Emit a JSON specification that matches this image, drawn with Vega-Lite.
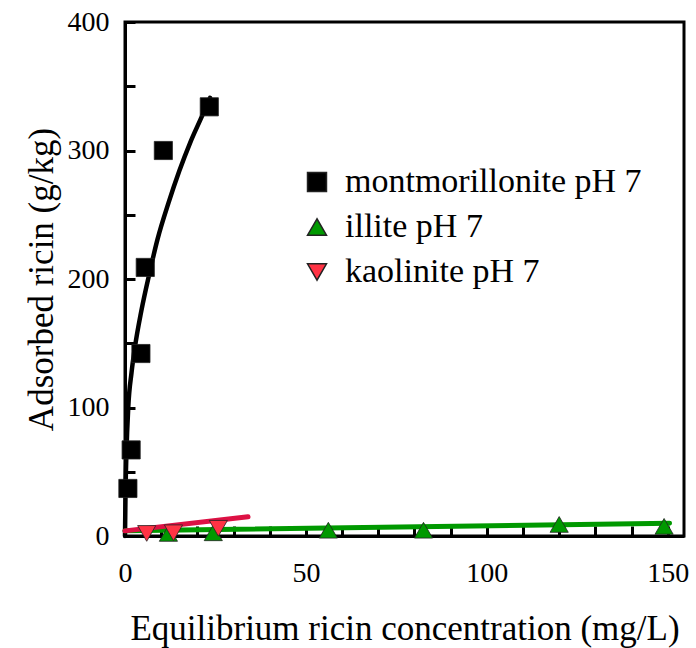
{
  "$schema": "https://vega.github.io/schema/vega-lite/v6.json",
  "width": 559,
  "height": 514,
  "autosize": {"type": "none"},
  "padding": {"left": 125, "top": 22, "right": 12, "bottom": 112},
  "background": "white",
  "config": {
    "font": "Liberation Serif, Times New Roman, Times, DejaVu Serif, serif",
    "view": {"stroke": "black", "strokeWidth": 3},
    "axis": {
      "domainColor": "black", "domainWidth": 3,
      "tickColor": "black", "tickWidth": 3,
      "labelFont": "Liberation Serif, Times New Roman, Times, DejaVu Serif, serif", "labelFontSize": 28, "labelColor": "black",
      "titleFont": "Liberation Serif, Times New Roman, Times, DejaVu Serif, serif", "titleFontSize": 35, "titleFontWeight": "normal", "titleColor": "black",
      "grid": false
    },
    "legend": {
      "labelFont": "Liberation Serif, Times New Roman, Times, DejaVu Serif, serif",
      "titleFont": "Liberation Serif, Times New Roman, Times, DejaVu Serif, serif"
    }
  },
  "data": {"values": [
    {"series": "montmorillonite pH 7", "kind": "point", "x": 0.8, "y": 37},
    {"series": "montmorillonite pH 7", "kind": "point", "x": 1.7, "y": 67},
    {"series": "montmorillonite pH 7", "kind": "point", "x": 4.4, "y": 142},
    {"series": "montmorillonite pH 7", "kind": "point", "x": 5.6, "y": 209},
    {"series": "montmorillonite pH 7", "kind": "point", "x": 10.6, "y": 300},
    {"series": "montmorillonite pH 7", "kind": "point", "x": 23.3, "y": 334},
    {"series": "illite pH 7", "kind": "point", "x": 12.0, "y": 2},
    {"series": "illite pH 7", "kind": "point", "x": 24.4, "y": 2.5},
    {"series": "illite pH 7", "kind": "point", "x": 56.2, "y": 4.5},
    {"series": "illite pH 7", "kind": "point", "x": 82.5, "y": 4.5},
    {"series": "illite pH 7", "kind": "point", "x": 120, "y": 9},
    {"series": "illite pH 7", "kind": "point", "x": 149, "y": 7.5},
    {"series": "kaolinite pH 7", "kind": "point", "x": 6.0, "y": 2},
    {"series": "kaolinite pH 7", "kind": "point", "x": 13.4, "y": 2.5},
    {"series": "kaolinite pH 7", "kind": "point", "x": 25.8, "y": 6},
    {"series": "montmorillonite pH 7", "kind": "fit", "x": 0, "y": 0},
    {"series": "montmorillonite pH 7", "kind": "fit", "x": 0.15, "y": 35},
    {"series": "montmorillonite pH 7", "kind": "fit", "x": 0.4, "y": 65},
    {"series": "montmorillonite pH 7", "kind": "fit", "x": 0.9, "y": 100},
    {"series": "montmorillonite pH 7", "kind": "fit", "x": 1.8, "y": 127},
    {"series": "montmorillonite pH 7", "kind": "fit", "x": 2.8, "y": 148},
    {"series": "montmorillonite pH 7", "kind": "fit", "x": 4.5, "y": 175},
    {"series": "montmorillonite pH 7", "kind": "fit", "x": 6.8, "y": 205},
    {"series": "montmorillonite pH 7", "kind": "fit", "x": 9, "y": 231},
    {"series": "montmorillonite pH 7", "kind": "fit", "x": 12, "y": 259},
    {"series": "montmorillonite pH 7", "kind": "fit", "x": 15, "y": 284},
    {"series": "montmorillonite pH 7", "kind": "fit", "x": 18, "y": 306},
    {"series": "montmorillonite pH 7", "kind": "fit", "x": 21, "y": 325},
    {"series": "montmorillonite pH 7", "kind": "fit", "x": 23.5, "y": 341},
    {"series": "illite pH 7", "kind": "fit", "x": 0, "y": 4},
    {"series": "illite pH 7", "kind": "fit", "x": 150.5, "y": 10},
    {"series": "kaolinite pH 7", "kind": "fit", "x": 0, "y": 4},
    {"series": "kaolinite pH 7", "kind": "fit", "x": 34, "y": 15}
  ]},
  "encoding": {
    "x": {
      "field": "x", "type": "quantitative",
      "scale": {"domain": [0, 154.5], "nice": false, "zero": false},
      "axis": {
        "title": "Equilibrium ricin concentration (mg/L)",
        "values": [0, 10, 20, 30, 40, 50, 60, 70, 80, 90, 100, 110, 120, 130, 140, 150],
        "labelExpr": "datum.value % 50 === 0 ? datum.label : ''",
        "tickSize": -10,
        "labelPadding": 33,
        "titlePadding": 24,
        "labelFlush": false
      }
    },
    "y": {
      "field": "y", "type": "quantitative",
      "scale": {"domain": [0, 400], "nice": false},
      "axis": {
        "title": "Adsorbed ricin (g/kg)",
        "values": [0, 50, 100, 150, 200, 250, 300, 350, 400],
        "labelExpr": "datum.value % 100 === 0 ? datum.label : ''",
        "tickSize": -10,
        "labelPadding": 26,
        "titlePadding": 8,
        "labelFlush": false
      }
    }
  },
  "layer": [
    {
      "transform": [{"filter": "datum.kind === 'fit' && datum.series === 'montmorillonite pH 7'"}],
      "mark": {"type": "line", "interpolate": "monotone", "strokeCap": "round", "strokeWidth": 4.5, "color": "black"},
      "encoding": {}
    },
    {
      "transform": [{"filter": "datum.kind === 'fit' && datum.series === 'illite pH 7'"}],
      "mark": {"type": "line", "strokeCap": "round", "strokeWidth": 5, "color": "#009900"},
      "encoding": {}
    },
    {
      "transform": [{"filter": "datum.kind === 'fit' && datum.series === 'kaolinite pH 7'"}],
      "mark": {"type": "line", "strokeCap": "round", "strokeWidth": 5, "color": "#dd1144"},
      "encoding": {}
    },
    {
      "transform": [{"filter": "datum.kind === 'point'"}],
      "mark": {"type": "point", "filled": true, "stroke": "#222222", "strokeWidth": 0.8, "opacity": 1},
      "encoding": {
        "fill": {
          "field": "series", "type": "nominal",
          "scale": {"domain": ["montmorillonite pH 7", "illite pH 7", "kaolinite pH 7"], "range": ["black", "#009900", "#ff3344"]},
          "legend": {
            "title": null, "orient": "none", "legendX": 175, "legendY": 143,
            "labelFont": "Liberation Serif, Times New Roman, Times, DejaVu Serif, serif",
            "labelFontSize": 34, "labelColor": "black",
            "symbolSize": 360, "rowPadding": 11, "labelOffset": 11, "labelLimit": 500
          }
        },
        "shape": {
          "field": "series", "type": "nominal",
          "scale": {"domain": ["montmorillonite pH 7", "illite pH 7", "kaolinite pH 7"], "range": ["square", "triangle-up", "triangle-down"]}
        },
        "size": {"value": 330}
      }
    }
  ]
}
